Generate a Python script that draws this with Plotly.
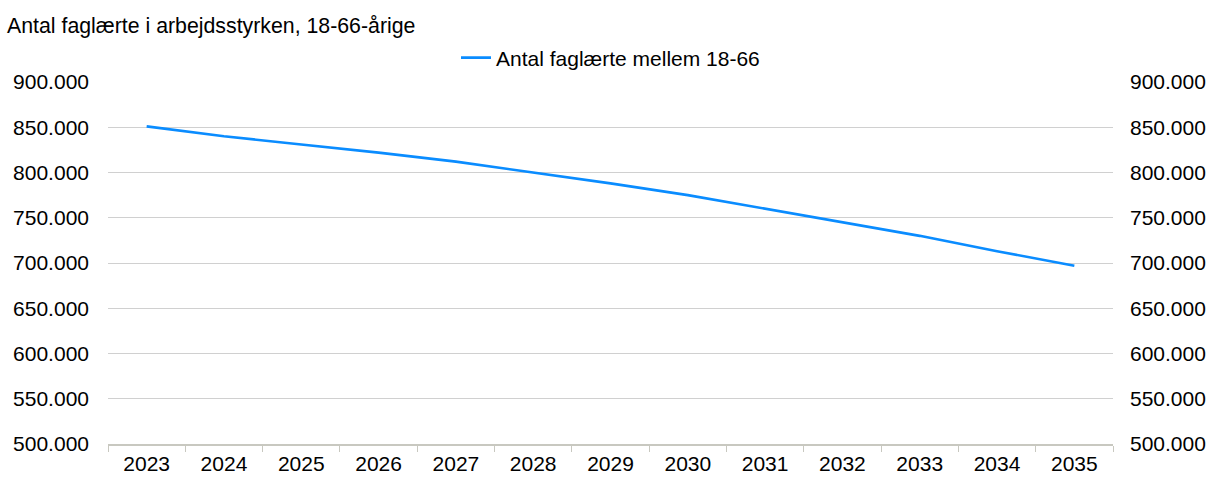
import plotly.graph_objects as go

years = ["2023", "2024", "2025", "2026", "2027", "2028", "2029",
         "2030", "2031", "2032", "2033", "2034", "2035"]
faglaerte = [851000, 840000, 831000, 822000, 812000, 800000, 788000,
             775000, 760000, 745000, 730000, 713000, 697000]
series_name = "Antal faglærte mellem 18-66"
title_text = "Antal faglærte i arbejdsstyrken, 18-66-årige"

W, H = 1210, 477
L, R, T, B = 108, 97, 82, 33

fig = go.Figure()
fig.add_trace(go.Scatter(x=years, y=faglaerte, mode="lines", name=series_name,
                         line=dict(color="#0A8CFF", width=2.6)))
fig.add_trace(go.Scatter(x=years, y=faglaerte, mode="lines", yaxis="y2",
                         showlegend=False, hoverinfo="skip",
                         line=dict(color="rgba(0,0,0,0)", width=0)))

tickfont = dict(family="Liberation Sans, Arial, sans-serif", size=21, color="#000000")
yrange = [500000, 900000]

fig.update_layout(
    width=W, height=H,
    margin=dict(l=L, r=R, t=T, b=B, autoexpand=False),
    paper_bgcolor="white", plot_bgcolor="white",
    separators=",.",
    font=dict(family="Liberation Sans, Arial, sans-serif", color="#000000"),
    title=dict(text=title_text, x=7 / W, xref="container", xanchor="left",
               y=1 - 26 / H, yref="container", yanchor="middle",
               pad=dict(l=0, r=0, t=0, b=0),
               font=dict(size=21.3, color="#000000")),
    showlegend=True,
    legend=dict(orientation="h", x=0.5, xanchor="center",
                y=1 + 24 / (H - T - B), yanchor="middle",
                font=dict(size=21, color="#000000"),
                bgcolor="rgba(0,0,0,0)"),
    xaxis=dict(type="category", range=[-0.5, 12.5], tickson="boundaries",
               ticks="outside", ticklen=6, tickcolor="#C8C8C0",
               showline=True, linecolor="#C8C8C0", linewidth=1.5,
               showgrid=False, tickfont=tickfont, automargin=False),
    yaxis=dict(range=yrange, dtick=50000, tickformat=",d",
               showgrid=True, gridcolor="#D0D0D0", gridwidth=1,
               zeroline=False, showline=False, ticks="",
               tickfont=tickfont, ticklabelstandoff=18, automargin=False),
    yaxis2=dict(range=yrange, dtick=50000, tickformat=",d", overlaying="y",
                side="right", showgrid=False, zeroline=False, showline=False,
                ticks="", tickfont=tickfont, ticklabelstandoff=16, automargin=False),
)

fig.write_html("out.html", config={"displayModeBar": False},
               post_script="document.body.style.margin='0';document.body.style.padding='0';")
